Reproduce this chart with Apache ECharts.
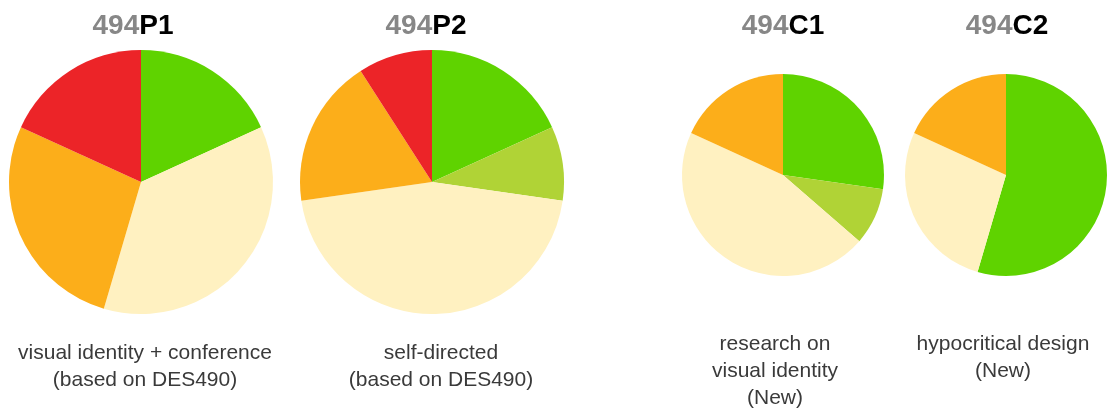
<!DOCTYPE html>
<html>
<head>
<meta charset="utf-8">
<title>494 projects</title>
<style>
  body { margin: 0; background: #fff; }
</style>
</head>
<body>
    <div id="main" style="width: 1113px; height: 412px;"></div>

    <script src="https://cdn.jsdelivr.net/npm/echarts@6/dist/echarts.min.js"></script>

    <script type="text/javascript">
        // slice order, clockwise from 12 o'clock
        var categories = ['green', 'light green', 'cream', 'orange', 'red'];
        var colors = ['#5fd300', '#b0d336', '#fff1c1', '#fcae1a', '#ec2428'];

        var courseCodes = ['P1', 'P2', 'C1', 'C2'];
        var p1Values = [2, 0, 4, 3, 2];
        var p2Values = [2, 1, 5, 2, 1];
        var c1Values = [3, 1, 5, 2, 0];
        var c2Values = [6, 0, 3, 2, 0];
        var captions = [
            'visual identity + conference\n(based on DES490)',
            'self-directed\n(based on DES490)',
            'research on\nvisual identity\n(New)',
            'hypocritical design\n(New)'
        ];

        var myChart = echarts.init(document.getElementById('main'));

        var layout = [
            { center: [141, 182], r: 132, titleX: 133, capX: 145, capY: 340 },
            { center: [432, 182], r: 132, titleX: 426, capX: 441, capY: 340 },
            { center: [783, 175], r: 101, titleX: 783, capX: 775, capY: 331 },
            { center: [1006, 175], r: 101, titleX: 1007, capX: 1003, capY: 331 }
        ];
        var allValues = [p1Values, p2Values, c1Values, c2Values];

        var series = [];
        var graphics = [];
        allValues.forEach(function(vals, i) {
            var L = layout[i];
            series.push({
                type: 'pie',
                center: L.center,
                radius: L.r,
                startAngle: 90,
                clockwise: true,
                silent: true,
                label: { show: false },
                labelLine: { show: false },
                itemStyle: { borderWidth: 0 },
                emphasis: { disabled: true },
                data: vals.map(function(v, k) {
                    return { name: categories[k], value: v, itemStyle: { color: colors[k] } };
                })
            });
            graphics.push({
                type: 'text',
                x: L.titleX,
                y: 26,
                style: {
                    text: '{a|494}{b|' + courseCodes[i] + '}',
                    align: 'center',
                    verticalAlign: 'middle',
                    rich: {
                        a: { fontSize: 28, fontWeight: 'bold', fill: '#878787', fontFamily: 'Liberation Sans' },
                        b: { fontSize: 28, fontWeight: 'bold', fill: '#000', fontFamily: 'Liberation Sans' }
                    }
                }
            });
            graphics.push({
                type: 'text',
                x: L.capX,
                y: L.capY,
                style: {
                    text: captions[i],
                    align: 'center',
                    verticalAlign: 'top',
                    fontSize: 21,
                    lineHeight: 27,
                    fontFamily: 'Liberation Sans',
                    fill: '#3a3a3a'
                }
            });
        });

        var option = {
            animation: false,
            backgroundColor: '#fff',
            series: series,
            graphic: graphics
        };
        myChart.setOption(option);
    </script>
</body>
</html>
